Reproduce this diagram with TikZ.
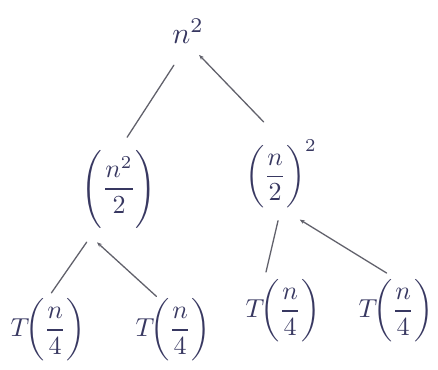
\documentclass[tikz,border=0pt]{standalone}
\usepackage{amsmath}
\usetikzlibrary{arrows.meta}
\definecolor{ink}{rgb}{0.22,0.22,0.38}
\definecolor{pencil}{rgb}{0.38,0.38,0.42}
\begin{document}
\begin{tikzpicture}[x=1pt,y=-1pt,
  term/.style={inner sep=0pt,text=ink,anchor=center},
  edge/.style={draw=pencil,line width=1.3pt,line cap=round},
  up/.style={edge,-{Stealth[length=5pt,width=4pt]}}]
\useasboundingbox (0,0) rectangle (438,369);
\node[term,minimum width=45pt,minimum height=23pt] (root) at (188,31) {\scalebox{3}{$n^2$}};
\node[term,minimum width=64pt,minimum height=78pt] (L) at (119,189) {\scalebox{2.6}{$\Biggl(\dfrac{n^2}{2}\Biggr)$}};
\node[term,minimum width=82pt,minimum height=62pt] (R) at (281,174) {\scalebox{2.6}{$\biggl(\dfrac{n}{2}\biggr)^{2}$}};
\node[term,minimum width=78pt,minimum height=64pt] (l1) at (48,330) {\scalebox{2.6}{$T\!\biggl(\dfrac{n}{4}\biggr)$}};
\node[term,minimum width=78pt,minimum height=64pt] (l2) at (173,330) {\scalebox{2.6}{$T\!\biggl(\dfrac{n}{4}\biggr)$}};
\node[term,minimum width=78pt,minimum height=64pt] (l3) at (283,311) {\scalebox{2.6}{$T\!\biggl(\dfrac{n}{4}\biggr)$}};
\node[term,minimum width=78pt,minimum height=64pt] (l4) at (396,311) {\scalebox{2.6}{$T\!\biggl(\dfrac{n}{4}\biggr)$}};
\draw[edge,shorten <=26pt,shorten >=15pt] (root.south) -- (L.north);
\draw[up,shorten <=25pt,shorten >=16pt] (R.north) -- (root.south);
\draw[edge,shorten <=17pt,shorten >=6pt] (L.240) -- (l1.north);
\draw[up,shorten <=2pt,shorten >=21pt] (l2.115) -- (L.south west);
\draw[edge,shorten <=13pt,shorten >=7pt] (R.south) -- (l3.120);
\draw[up,shorten <=11pt,shorten >=22pt] (l4.north) -- (R.south);
\end{tikzpicture}
\end{document}
